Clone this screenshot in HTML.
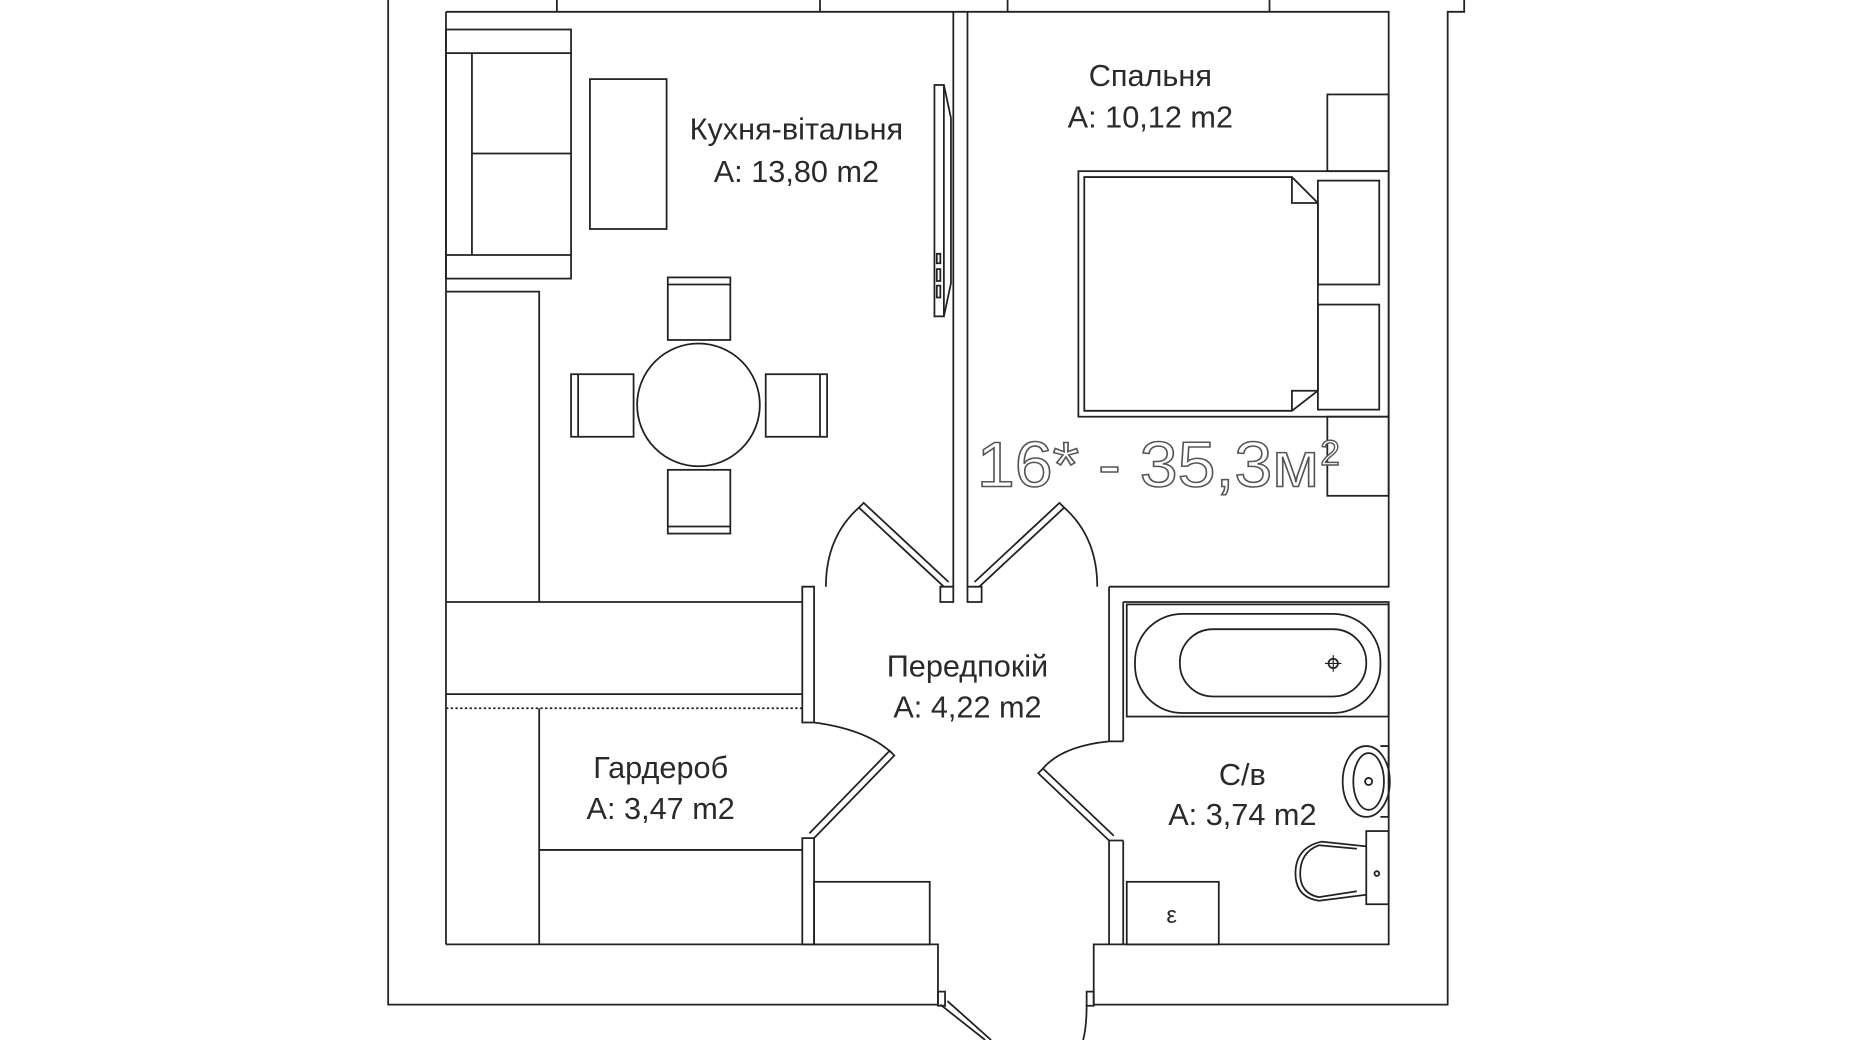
<!DOCTYPE html>
<html><head><meta charset="utf-8"><style>
html,body{margin:0;padding:0;background:#fff;}
svg{display:block;}
text{font-family:"Liberation Sans","DejaVu Sans",sans-serif;fill:#2a2a2a;}
</style></head><body>
<svg width="1850" height="1040" viewBox="0 0 1568 881" preserveAspectRatio="none" xmlns="http://www.w3.org/2000/svg">
<g fill="none" stroke="#222" stroke-width="1.5">
<path d="M329 0 V851 H795 M927 851 H1227 V10 H1241 V0"/>
<path d="M472 0V10 M695 0V10 M854 0V10 M1076 0V10"/>
<path d="M378 10 H1177 V497 H940"/>
<path d="M378 10 V800"/>
<rect x="378" y="25" width="106" height="211"/>
<path d="M378 45H484 M378 216H484 M400 45V216 M400 130H484"/>
<rect x="500" y="67" width="65" height="127"/>
<path d="M378 247H457V510"/>
<circle cx="592" cy="343" r="52"/>
<rect x="566" y="235" width="53" height="53"/><path d="M566 241H619"/>
<rect x="566" y="398" width="53" height="54"/><path d="M566 446H619"/>
<rect x="484" y="317" width="53" height="53"/><path d="M490 317V370"/>
<rect x="649" y="317" width="52" height="53"/><path d="M695 317V370"/>
<rect x="792" y="72" width="8" height="196"/><path d="M800 72 L806 100 V240 L800 268"/>
<path d="M794 215h3v8h-3z M794 228h3v10h-3z M794 242h3v10h-3z"/>
<path d="M808 10V497 M820 10V497"/>
<path d="M797 497H808V510H797Z M820 497H832V510H820Z"/>
<path d="M800 497 L728 430 L732 426 L804 493"/>
<path d="M728 430 Q700 455 700 497"/>
<path d="M830 497 L902 430 L898 426 L826 493"/>
<path d="M902 430 Q930 455 930 497"/>
<path d="M690 497H680V612H690Z M690 497V510"/>
<path d="M378 510H680 M378 588H680"/>
<path d="M378 600H680" stroke-dasharray="2 2"/>
<path d="M457 600V800 M457 720H680"/>
<path d="M680 710H690V800H680Z"/>
<path d="M690 710 L758 640 L754 636 L686 706"/>
<path d="M690 612 Q735 618 756 638"/>
<rect x="690" y="747" width="98" height="53"/>
<path d="M378 800H795V851 M927 851V800H952"/>
<path d="M797 851 L835 881 M803 848 L840 881 M795 840h6v12h-6z M921 840h6v12h-6z"/>
<path d="M921 851 Q921 870 918 881"/>
<path d="M940 497V628 M952 510V628 M940 628H952 M940 712V800 M952 712V800 M940 712H952"/>
<path d="M952 510H1177V800H952"/>
<rect x="955" y="512" width="222" height="95"/>
<rect x="962" y="520" width="208" height="84" rx="40"/>
<rect x="1000" y="533" width="158" height="57" rx="28"/>
<circle cx="1130" cy="562" r="4"/><path d="M1130 555V569 M1123 562H1137" stroke-width="1"/>
<path d="M940 712 L880 655 L884 651 L944 708"/>
<path d="M884 651 Q900 632 940 628"/>
<ellipse cx="1158" cy="662" rx="20" ry="30"/>
<ellipse cx="1160" cy="662" rx="13" ry="24"/>
<circle cx="1160" cy="662" r="3"/>
<path d="M1170 632H1177V692H1170"/>
<rect x="1158" y="704" width="19" height="62"/>
<path d="M1158 717 L1120 713 Q1098 718 1098 740 Q1098 760 1118 763 L1158 758"/>
<path d="M1150 719 L1118 716 Q1102 722 1102 740 Q1102 757 1118 760 L1150 755"/>
<circle cx="1167" cy="740" r="2"/>
<rect x="955" y="747" width="78" height="53"/>
<rect x="1125" y="80" width="52" height="65"/>
<rect x="914" y="145" width="263" height="208"/>
<path d="M919 150H1095L1117 172V331L1095 348H919Z"/>
<path d="M1095 150V172H1117 M1095 348V331H1117"/>
<rect x="1117" y="153" width="52" height="88"/>
<rect x="1117" y="258" width="52" height="89"/>
<rect x="1125" y="353" width="52" height="67"/>
</g>
<g font-size="26" text-anchor="middle">
<text x="675" y="118">Кухня-вітальня</text>
<text x="675" y="154">A: 13,80 m2</text>
<text x="975" y="73">Спальня</text>
<text x="975" y="108">A: 10,12 m2</text>
<text x="820" y="573">Передпокій</text>
<text x="820" y="608">A: 4,22 m2</text>
<text x="560" y="659">Гардероб</text>
<text x="560" y="694">A: 3,47 m2</text>
<text x="1053" y="665">С/в</text>
<text x="1053" y="699">A: 3,74 m2</text>
<text x="993" y="782" font-size="20">ε</text>
</g>
<text x="828" y="412" font-size="54" textLength="290" lengthAdjust="spacingAndGlyphs" style="fill:#fff;stroke:#555;stroke-width:1.3">16* - 35,3м</text>
<text x="1119" y="394" font-size="30" style="fill:#fff;stroke:#555;stroke-width:1.2">2</text>
</svg>
</body></html>
